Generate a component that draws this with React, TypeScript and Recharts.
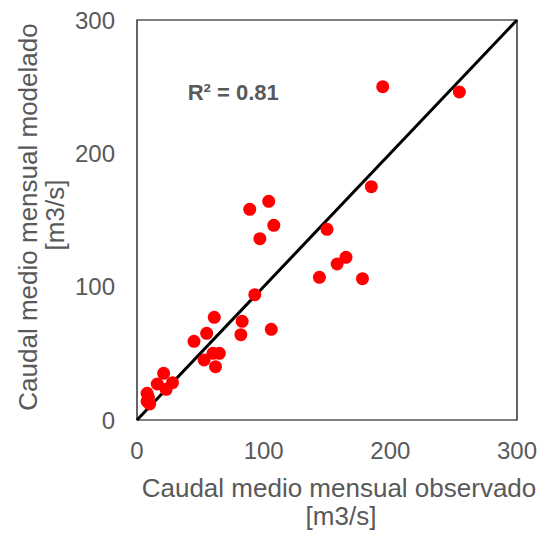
import {
  ScatterChart,
  Scatter,
  XAxis,
  YAxis,
  ReferenceLine,
  ReferenceArea,
  ReferenceDot,
} from "recharts";

// caudal observado vs modelado [m3/s]
const observado = [194, 254.5, 185, 104, 89, 108, 97, 150, 165, 158, 144, 178, 93, 61, 83, 106, 82, 55, 45, 53, 60, 65, 62, 21, 16, 28, 23, 8, 9, 8, 10];
const modelado = [250, 246, 175, 164, 158, 146, 136, 143, 122, 117, 107, 106, 94, 77, 74, 68, 64, 65, 59, 45, 50, 50, 40, 35, 27, 28, 23, 20, 17, 14, 12];
const axisTicks = [0, 100, 200, 300];
const r2Text = "R² = 0.81";
const xTitle = ["Caudal medio mensual observado", "[m3/s]"];
const yTitle = ["Caudal medio mensual modelado", "[m3/s]"];

const points = observado.map((x, i) => ({ x, y: modelado[i] }));

const gray = "#595959";
const font = "'Liberation Sans', Arial, sans-serif";
const tickStyle = { fill: gray, fontSize: 24, fontFamily: font };

function RedDot(props: any) {
  return <circle cx={props.cx} cy={props.cy} r={6.5} fill="#ff0000" />;
}

function XTitle() {
  return (
    <g fill={gray} fontSize={26} fontFamily={font} textAnchor="middle">
      <text x={339} y={497}>{xTitle[0]}</text>
      <text x={341} y={525}>{xTitle[1]}</text>
    </g>
  );
}

function YTitle() {
  return (
    <g fill={gray} fontSize={26} fontFamily={font} textAnchor="middle">
      <text x={37} y={217} transform="rotate(-90 37 217)">{yTitle[0]}</text>
      <text x={64} y={215} transform="rotate(-90 64 215)">{yTitle[1]}</text>
    </g>
  );
}

function R2Label(props: any) {
  const { viewBox } = props;
  return (
    <text
      x={viewBox.x}
      y={viewBox.y}
      dy="0.36em"
      fill={gray}
      fontSize={22}
      fontWeight="bold"
      fontFamily={font}
    >
      {r2Text}
    </text>
  );
}

export default function App() {
  return (
    <div style={{ position: "absolute", left: 0, top: 0, background: "#fff" }}>
      <ScatterChart
        width={543}
        height={535}
        margin={{ top: 20, right: 26, bottom: 75, left: 57 }}
      >
        <XAxis
          type="number"
          dataKey="x"
          domain={[0, 300]}
          ticks={axisTicks}
          axisLine={false}
          tickLine={false}
          tickSize={6}
          tickMargin={16}
          height={40}
          tick={tickStyle}
          label={<XTitle />}
        />
        <YAxis
          type="number"
          dataKey="y"
          domain={[0, 300]}
          ticks={axisTicks}
          axisLine={false}
          tickLine={false}
          tickSize={6}
          tickMargin={16}
          width={80}
          tick={tickStyle}
          label={<YTitle />}
        />
        <ReferenceArea
          x1={0}
          x2={300}
          y1={0}
          y2={300}
          fill="none"
          stroke="#000"
          strokeWidth={1.2}
        />
        <ReferenceLine
          segment={[{ x: 0, y: 0 }, { x: 300, y: 300 }]}
          stroke="#000"
          strokeWidth={3}
        />
        <ReferenceDot x={40} y={246} r={0} label={<R2Label />} />
        <Scatter data={points} shape={<RedDot />} isAnimationActive={false} />
      </ScatterChart>
    </div>
  );
}
